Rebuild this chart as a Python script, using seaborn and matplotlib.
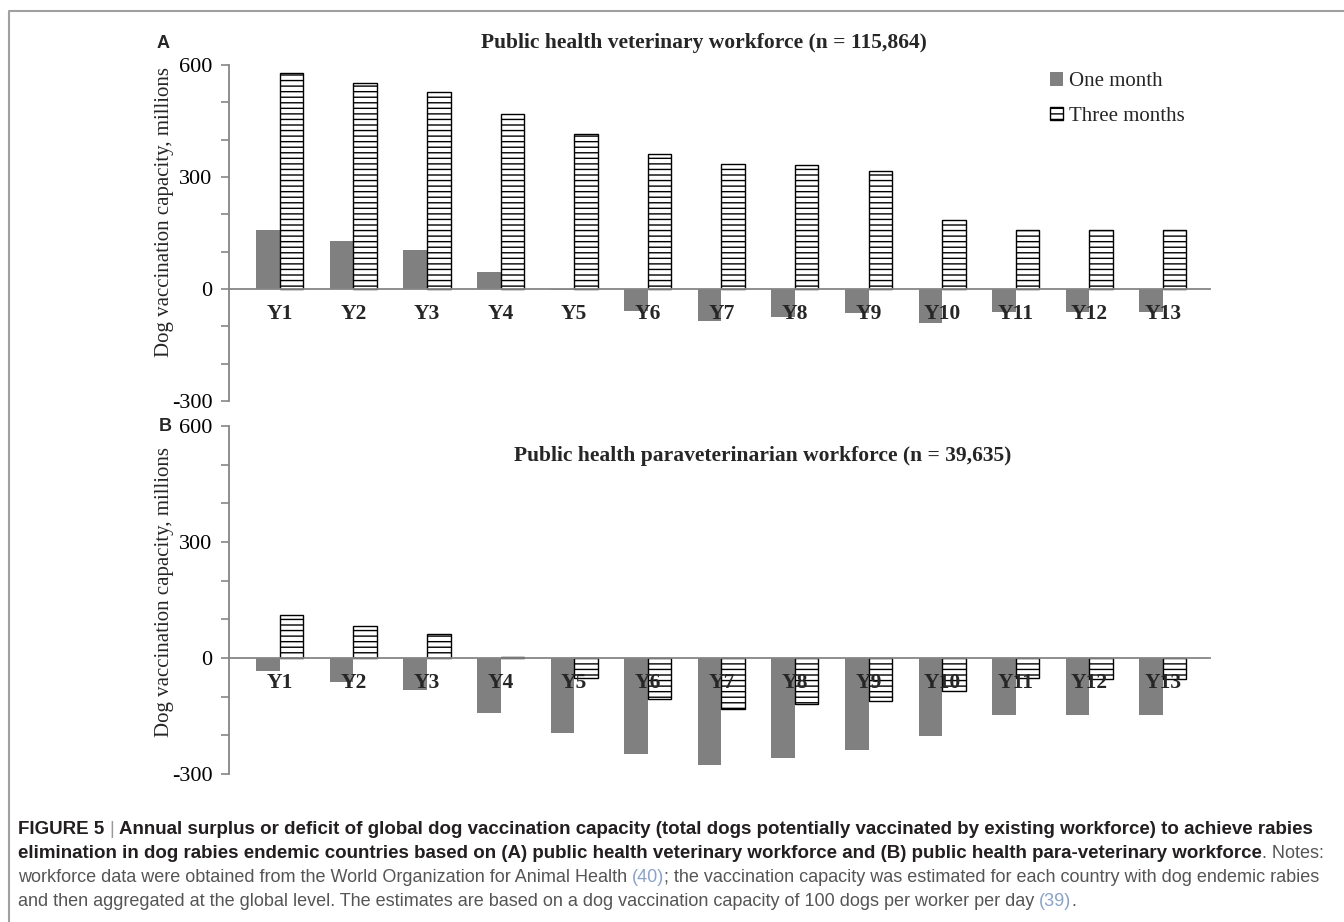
"""
Annual surplus/deficit of dog vaccination capacity, two-panel bar chart.
"""
import numpy as np
import pandas as pd
import matplotlib
matplotlib.use('Agg')
import matplotlib.pyplot as plt
from matplotlib.patches import Patch
from matplotlib.lines import Line2D
import seaborn as sns

years = [f"Y{i}" for i in range(1, 14)]
series = ["One month", "Three months"]

# panel A: public health veterinary workforce (millions)
vet_one_month = [158, 129, 105, 46, -4, -60, -85, -75, -64, -91, -62, -62, -62]
vet_three_months = [579, 551, 527, 468, 415, 361, 336, 331, 315, 184, 157, 157, 157]

# panel B: public health paraveterinarian workforce (millions)
para_one_month = [-33, -62, -83, -142, -195, -249, -276, -258, -237, -201, -147, -147, -147]
para_three_months = [110, 83, 61, 3, -52, -106, -133, -118, -111, -85, -52, -54, -54]

titles = ["Public health veterinary workforce (n = 115,864)",
          "Public health paraveterinarian workforce (n = 39,635)"]
ylabel = "Dog vaccination capacity, millions"

sns.set_theme(style="white")
plt.rcParams['font.family'] = ['Liberation Serif', 'DejaVu Serif']
plt.rcParams['hatch.color'] = 'black'
plt.rcParams['hatch.linewidth'] = 1.0

GRAY = "#808080"
AXIS = "#868686"

fig = plt.figure(figsize=(13.44, 9.22), dpi=100)
W, H = 1344, 922


def px_axes(left, top, right, bottom):
    return fig.add_axes([left / W, 1 - bottom / H, (right - left) / W, (bottom - top) / H])


def draw_panel(ax, one, three):
    df = pd.DataFrame({
        "year": years * 2,
        "period": np.repeat(series, len(years)),
        "value": one + three,
    })
    sns.barplot(data=df, x="year", y="value", hue="period", hue_order=series,
                palette={"One month": GRAY, "Three months": "white"},
                width=0.64, saturation=1, linewidth=0, legend=False, ax=ax)
    for p in ax.containers[1]:
        p.set_hatch('---')
        p.set_edgecolor('black')
        p.set_linewidth(1.0)
    ax.set_ylim(-300, 600)
    ax.set_xlim(-0.69, 12.64)
    ax.set_yticks(range(-300, 601, 100))
    ax.set_yticklabels([str(v) if v % 300 == 0 else "" for v in range(-300, 601, 100)])
    ax.set_xlabel("")
    ax.set_ylabel("")
    ax.set_axisbelow(False)
    for s in ["top", "right"]:
        ax.spines[s].set_visible(False)
    ax.spines["bottom"].set_position(("data", 0))
    ax.spines["bottom"].set_color(AXIS)
    ax.spines["left"].set_color(AXIS)
    ax.spines["bottom"].set_linewidth(1.3)
    ax.spines["left"].set_linewidth(1.3)
    ax.tick_params(axis="y", left=True, length=6, width=1.2, color=AXIS,
                   labelsize=16, pad=6, labelcolor="black")
    ax.tick_params(axis="x", length=0, pad=11, labelsize=15.5)
    for t in ax.get_xticklabels():
        t.set_fontweight("bold")
    ax.patch.set_alpha(0)


ax_a = px_axes(229, 65, 1210, 401)
draw_panel(ax_a, vet_one_month, vet_three_months)
ax_b = px_axes(229, 426, 1210, 774)
draw_panel(ax_b, para_one_month, para_three_months)

# panel titles, letters, y labels
fig.text(704 / W, 1 - 43 / H, titles[0], ha="center", va="center",
         fontsize=15.5, fontweight="bold")
fig.text(763 / W, 1 - 456 / H, titles[1], ha="center", va="center",
         fontsize=15.5, fontweight="bold")
for letter, (lx, ly) in zip("AB", [(163, 44), (165, 426)]):
    fig.text(lx / W, 1 - ly / H, letter, ha="center", va="center",
             fontsize=13, fontweight="bold", family=["Liberation Sans", "DejaVu Sans"])
for cy in [212, 592]:
    fig.text(164 / W, 1 - cy / H, ylabel, rotation=90, ha="center", va="center",
             fontsize=15)

# legend
handles = [Patch(facecolor=GRAY, edgecolor="none"),
           Patch(facecolor="white", edgecolor="black", hatch="---", linewidth=1.0)]
fig.legend(handles, series, loc="upper left", bbox_to_anchor=(1040 / W, 1 - 62 / H),
           frameon=False, fontsize=15, handlelength=0.6, handleheight=0.6,
           handletextpad=0.3, labelspacing=0.75, borderpad=0)

# frame lines round the figure panel
fig.add_artist(Line2D([9 / W, 9 / W, 1.0], [0.0, 1 - 11 / H, 1 - 11 / H],
                      color="#a0a0a0", linewidth=1.5, transform=fig.transFigure))

# caption with mixed weights / colours
renderer = fig.canvas.get_renderer()
CAP_FONT = ["Liberation Sans", "DejaVu Sans"]
CAP_SIZE = {"bold": 13.5, "normal": 13.0, "light": 13.0}


def measure(s, weight):
    t = fig.text(0, 0, s, fontsize=CAP_SIZE[weight], fontweight=weight, family=CAP_FONT)
    w = t.get_window_extent(renderer).width
    t.remove()
    return w


def caption_line(y_px, pieces, x_px=18):
    x = x_px
    for s, weight, color in pieces:
        lead = len(s) - len(s.lstrip(" "))
        x += lead * (measure("a a", weight) - measure("aa", weight))
        s = s.strip(" ")
        t = fig.text(x / W, 1 - y_px / H, s, fontsize=CAP_SIZE[weight], fontweight=weight,
                     color=color, family=CAP_FONT, va="baseline", ha="left")
        x += t.get_window_extent(renderer).width


DARK, TXT, REF = "#231f20", "#555555", "#8aa2c8"
caption_line(834, [("FIGURE 5", "bold", DARK), (" |", "light", "#999999"),
                   (" Annual surplus or deficit of global dog vaccination capacity (total dogs potentially "
                    "vaccinated by existing workforce) to achieve rabies", "bold", DARK)])
caption_line(858, [("elimination in dog rabies endemic countries based on (A) public health veterinary "
                    "workforce and (B) public health para-veterinary workforce", "bold", DARK),
                   (". Notes:", "normal", TXT)])
caption_line(882, [("workforce data were obtained from the World Organization for Animal Health", "normal", TXT),
                   (" (40)", "normal", REF),
                   ("; the vaccination capacity was estimated for each country with dog endemic rabies",
                    "normal", TXT)])
caption_line(906, [("and then aggregated at the global level. The estimates are based on a dog vaccination "
                    "capacity of 100 dogs per worker per day", "normal", TXT),
                   (" (39)", "normal", REF), (".", "normal", TXT)])

fig.savefig("out.png", dpi=100)
